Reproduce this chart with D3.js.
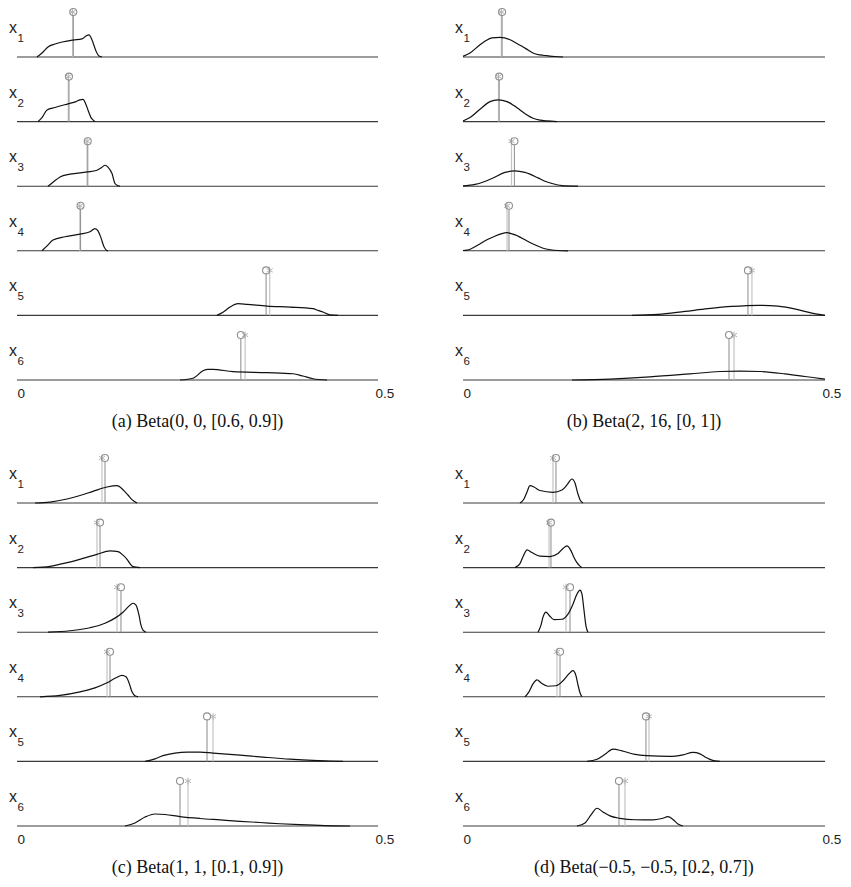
<!DOCTYPE html>
<html>
<head>
<meta charset="utf-8">
<script src="https://cdn.jsdelivr.net/npm/d3@7"></script>
<style>
  body { margin: 0; background: #fff; }
  svg { display: block; }
</style>
</head>
<body>
<svg width="851" height="887"></svg>
<script>
// captions and tick labels
const captions = [
  '(a)  Beta(0, 0, [0.6, 0.9])',
  '(b)  Beta(2, 16, [0, 1])',
  '(c)  Beta(1, 1, [0.1, 0.9])',
  '(d)  Beta(\u22120.5, \u22120.5, [0.2, 0.7])'
];
const rowNames = ['1', '2', '3', '4', '5', '6'];
const xTicks = [0, 0.5];
const tickLabels = ['0', '0.5'];

// density curves, [value, density] per point, one list per variable
const curvesA = [
  [[0.0277,0],[0.0346,2.5],[0.0429,6.3],[0.0526,8.1],[0.0776,10.6],[0.0900,11.3],[0.0956,13.1],[0.0997,13.8],[0.1039,10.6],[0.1094,3.8],[0.1136,0.6],[0.1177,0]],
  [[0.0291,0],[0.0346,2.5],[0.0416,7.3],[0.0526,8.8],[0.0706,11.1],[0.0817,12.5],[0.0873,13.6],[0.0914,13.9],[0.0956,10.6],[0.0983,7.3],[0.1025,2.5],[0.1052,1.1],[0.1080,0]],
  [[0.0429,0],[0.0499,2.5],[0.0596,5.8],[0.0734,7.5],[0.0970,8.9],[0.1108,10],[0.1177,11.9],[0.1219,13.1],[0.1260,11.9],[0.1316,7.9],[0.1357,1.7],[0.1399,0.3],[0.1427,0]],
  [[0.0346,0],[0.0416,3.1],[0.0499,6.7],[0.0665,8.8],[0.0873,10.4],[0.1011,11.9],[0.1080,13.9],[0.1122,12.5],[0.1163,8.1],[0.1205,2.5],[0.1233,0.6],[0.1260,0]],
  [[0.2770,0],[0.2853,1.9],[0.2950,5.2],[0.3061,7.3],[0.3186,6.9],[0.3463,5.8],[0.3781,5.2],[0.4100,4.2],[0.4169,3.1],[0.4238,2.1],[0.4335,0.3],[0.4446,0]],
  [[0.2258,0],[0.2438,1.1],[0.2576,5.8],[0.2645,6.7],[0.2715,6.7],[0.2992,5.2],[0.3463,4.6],[0.3823,3.9],[0.3961,2.5],[0.4100,0.8],[0.4294,0]]
];
const curvesB = [
  [[0,0.4],[0.0097,2.5],[0.0235,7.7],[0.0318,10.3],[0.0400,11.9],[0.0511,12.3],[0.0649,10.8],[0.0732,8.8],[0.0815,6.7],[0.0898,4.4],[0.0967,2.5],[0.1063,1.3],[0.1160,0.8],[0.1271,0.3],[0.1381,0]],
  [[0,0.4],[0.0097,2.5],[0.0235,7.7],[0.0373,12.5],[0.0483,13.6],[0.0608,12.5],[0.0704,10],[0.0787,7.3],[0.0884,4.1],[0.0967,2.1],[0.1063,0.9],[0.1160,0.4],[0.1298,0]],
  [[0,0.2],[0.0166,1.1],[0.0290,2.8],[0.0400,4.8],[0.0580,8.6],[0.0718,9.6],[0.0856,8.6],[0.1036,5.2],[0.1132,3.1],[0.1229,1.7],[0.1367,0.4],[0.1588,0]],
  [[0,0.2],[0.0055,0.4],[0.0207,3.6],[0.0304,6.3],[0.0400,8.3],[0.0608,11.3],[0.0760,9.2],[0.0856,6.9],[0.0953,4.6],[0.1132,1.3],[0.1312,0.2],[0.1450,0]],
  [[0.2334,0],[0.2693,0.6],[0.3066,2.5],[0.3383,4.2],[0.3715,5.6],[0.4074,6.3],[0.4350,5.8],[0.4626,3.6],[0.4820,1.4],[0.4999,0]],
  [[0.1505,0],[0.2030,0.6],[0.2582,1.9],[0.3135,3.8],[0.3549,5.3],[0.3825,5.6],[0.4102,5.3],[0.4447,3.8],[0.4723,2.2],[0.4999,0.6]]
];
const curvesC = [
  [[0.0249,0],[0.0457,0.6],[0.0693,2.5],[0.0873,4.7],[0.1053,7.3],[0.1247,10],[0.1385,10.8],[0.1468,8.3],[0.1537,5],[0.1593,2.1],[0.1662,0]],
  [[0.0222,0],[0.0457,0.8],[0.0693,3.1],[0.0900,5.6],[0.1108,8.3],[0.1288,10.4],[0.1399,10],[0.1468,7.8],[0.1524,5.2],[0.1565,2.5],[0.1607,0.6],[0.1704,0]],
  [[0.0429,0],[0.0734,0.9],[0.1011,2.8],[0.1219,5.6],[0.1357,8.8],[0.1468,12.5],[0.1551,16.3],[0.1607,18.1],[0.1648,16.9],[0.1690,10.6],[0.1717,4.4],[0.1745,1.3],[0.1787,0]],
  [[0.0319,0],[0.0596,0.9],[0.0873,3.1],[0.1080,5.6],[0.1247,8.8],[0.1371,11.9],[0.1454,13.4],[0.1510,12.5],[0.1551,8.8],[0.1593,3.1],[0.1634,0.6],[0.1676,0]],
  [[0.1773,0],[0.1911,1.6],[0.2022,3.6],[0.2188,5.2],[0.2355,5.8],[0.2535,5.8],[0.2715,5.2],[0.3089,3.9],[0.3407,2.7],[0.3781,1.4],[0.4100,0.6],[0.4335,0.25],[0.4515,0]],
  [[0.1496,0],[0.1634,1.9],[0.1773,5.6],[0.1911,7.5],[0.2050,7.2],[0.2258,5.9],[0.2535,4.7],[0.2812,3.8],[0.3089,2.9],[0.3366,2.2],[0.3643,1.4],[0.3920,0.8],[0.4266,0.25],[0.4612,0]]
];
const curvesD = [
  [[0.0787,0],[0.0842,2.5],[0.0884,6.9],[0.0925,10.8],[0.0981,10],[0.1063,7.8],[0.1243,6.7],[0.1367,8.1],[0.1436,11.3],[0.1505,15],[0.1547,12.5],[0.1588,5.6],[0.1616,2.1],[0.1657,0]],
  [[0.0718,0],[0.0787,2.5],[0.0842,8.1],[0.0884,11.1],[0.0953,9.4],[0.1063,7.2],[0.1201,6.9],[0.1312,8.8],[0.1381,11.9],[0.1436,13.6],[0.1491,10.6],[0.1533,6.3],[0.1574,3.1],[0.1616,0.9],[0.1643,0]],
  [[0.1036,0],[0.1077,4.4],[0.1105,9.4],[0.1146,12.5],[0.1188,10.6],[0.1257,7.8],[0.1367,8.1],[0.1450,11.3],[0.1519,17.5],[0.1574,23.8],[0.1616,26.3],[0.1643,23.8],[0.1671,13.8],[0.1699,3.8],[0.1726,0]],
  [[0.0856,0],[0.0911,3.1],[0.0967,8.1],[0.1022,10.6],[0.1077,8.8],[0.1174,6.6],[0.1284,6.9],[0.1381,10],[0.1464,14.4],[0.1519,16.3],[0.1561,13.1],[0.1588,7.5],[0.1616,2.5],[0.1643,0]],
  [[0.1712,0],[0.1851,1.3],[0.1961,4.4],[0.2072,7.7],[0.2196,6.6],[0.2375,4.4],[0.2541,3.6],[0.2859,3.1],[0.3038,4.1],[0.3176,5.6],[0.3273,4.7],[0.3342,2.8],[0.3411,1.3],[0.3480,0.3],[0.3549,0]],
  [[0.1574,0],[0.1685,1.9],[0.1768,6.9],[0.1851,11.1],[0.1933,8.8],[0.2030,6.3],[0.2168,4.8],[0.2375,3.9],[0.2624,3.8],[0.2748,4.7],[0.2831,5.8],[0.2900,4.1],[0.2969,1.3],[0.3038,0]]
];

// the two point estimates per variable (circle and asterisk)
const circleA = [0.078, 0.072, 0.098, 0.088, 0.345, 0.310];
const starA   = [0.077, 0.071, 0.097, 0.087, 0.350, 0.316];
const circleB = [0.054, 0.050, 0.071, 0.0635, 0.3936, 0.3674];
const starB   = [0.053, 0.049, 0.067, 0.0608, 0.3991, 0.3743];
const circleC = [0.1219, 0.115, 0.144, 0.1288, 0.2632, 0.2258];
const starC   = [0.1177, 0.1108, 0.1385, 0.1247, 0.2715, 0.2368];
const circleD = [0.1284, 0.1215, 0.1478, 0.1340, 0.2527, 0.2154];
const starD   = [0.1243, 0.1188, 0.1422, 0.1298, 0.2569, 0.2237];

const svg = d3.select('svg');

const panels = [
  { curves: curvesA, circ: circleA, star: starA, caption: captions[0], xr: [17, 378], yr: [57, 380] },
  { curves: curvesB, circ: circleB, star: starB, caption: captions[1], xr: [463, 825], yr: [57, 380] },
  { curves: curvesC, circ: circleC, star: starC, caption: captions[2], xr: [17, 378], yr: [503, 826] },
  { curves: curvesD, circ: circleD, star: starD, caption: captions[3], xr: [463, 825], yr: [503, 826] }
];

const stemHeight = 45;
const markR = 3.5;

panels.forEach((p) => {
  let x = d3.scaleLinear().domain([0, 0.5]).range(p.xr);
  let row = d3.scalePoint().domain(d3.range(6)).range(p.yr);
  let h = d3.scaleLinear().domain([0, 25]).range([0, 40]);
  let g = svg.append('g');

  p.curves.forEach((pts, i) => {
    let base = row(i);

    // baseline
    g.append('line')
      .attr('x1', x(0)).attr('x2', x(0.5))
      .attr('y1', base).attr('y2', base)
      .attr('stroke', '#3a3a3a')
      .attr('stroke-width', 1.1);

    // label x_i
    g.append('text')
      .attr('x', p.xr[0] - 8).attr('y', base - 24)
      .attr('font-family', 'Liberation Sans, Arial, Helvetica, sans-serif')
      .attr('font-size', 16)
      .attr('fill', '#222')
      .text('x');
    g.append('text')
      .attr('x', p.xr[0] + 0.5).attr('y', base - 15)
      .attr('font-family', 'Liberation Sans, Arial, Helvetica, sans-serif')
      .attr('font-size', 11.5)
      .attr('fill', '#222')
      .text(rowNames[i]);

    // stems with asterisk and circle
    let xs = x(p.star[i]);
    let xc = x(p.circ[i]);
    let top = base - stemHeight;
    g.append('line')
      .attr('x1', xs).attr('x2', xs)
      .attr('y1', base).attr('y2', top)
      .attr('stroke', '#c4c4c4').attr('stroke-width', 1.2);
    [90, 30, 150].forEach((a) => {
      let r = a * Math.PI / 180;
      g.append('line')
        .attr('x1', xs - markR * Math.cos(r)).attr('x2', xs + markR * Math.cos(r))
        .attr('y1', top - markR * Math.sin(r)).attr('y2', top + markR * Math.sin(r))
        .attr('stroke', '#b4b4b4').attr('stroke-width', 1);
    });
    g.append('line')
      .attr('x1', xc).attr('x2', xc)
      .attr('y1', base).attr('y2', top + markR)
      .attr('stroke', '#959595').attr('stroke-width', 1.1);
    g.append('circle')
      .attr('cx', xc).attr('cy', top).attr('r', markR)
      .attr('fill', 'none')
      .attr('stroke', '#8f8f8f').attr('stroke-width', 1.1);

    // density curve
    let line = d3.line()
      .x((d) => x(d[0]))
      .y((d) => base - h(d[1]))
      .curve(d3.curveMonotoneX);
    g.append('path')
      .attr('d', line(pts))
      .attr('fill', 'none')
      .attr('stroke', '#111')
      .attr('stroke-width', 1.2);
  });

  // axis ticks 0 and 0.5
  let last = row(5);
  let axis = d3.axisBottom(x)
    .tickValues(xTicks)
    .tickSize(0)
    .tickPadding(8)
    .tickFormat((d, i) => tickLabels[i]);
  let ag = g.append('g')
    .attr('transform', `translate(0,${last})`)
    .call(axis);
  ag.select('.domain').remove();
  ag.selectAll('text')
    .attr('font-family', 'Liberation Sans, Arial, Helvetica, sans-serif')
    .attr('font-size', 13.5)
    .attr('fill', '#222')
    .attr('text-anchor', 'start')
    .attr('dx', (d, i) => i === 0 ? 0 : -3);

  // caption
  g.append('text')
    .attr('x', (p.xr[0] + p.xr[1]) / 2)
    .attr('y', last + 47)
    .attr('text-anchor', 'middle')
    .attr('font-family', 'Liberation Serif, Times New Roman, serif')
    .attr('font-size', 18)
    .attr('fill', '#111')
    .text(p.caption);
});
</script>
</body>
</html>
